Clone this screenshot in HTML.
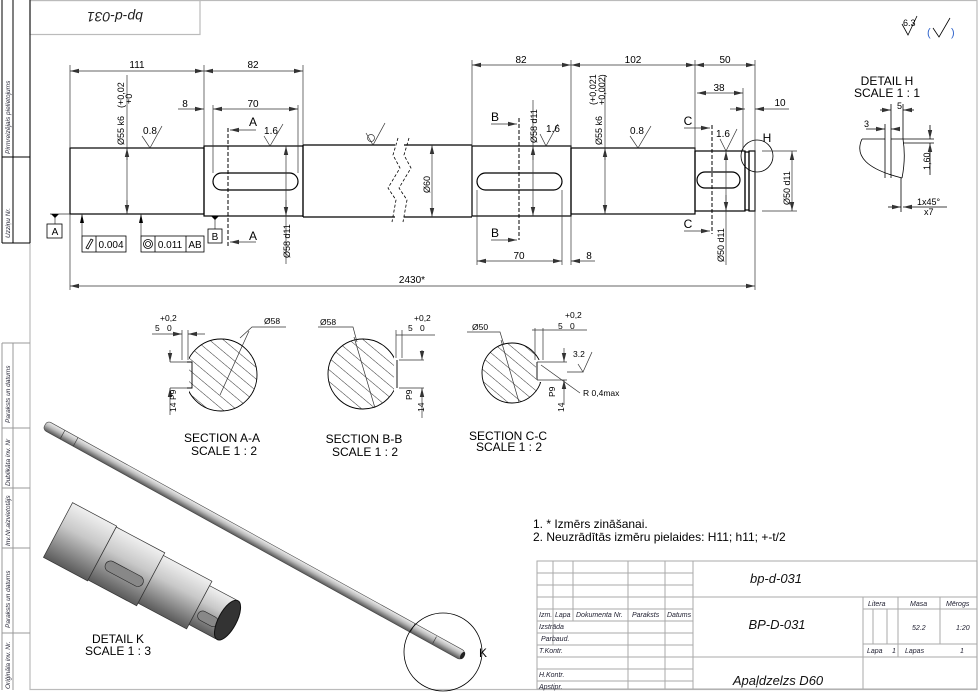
<!DOCTYPE html>
<html><head><meta charset="utf-8"><style>
html,body{margin:0;padding:0;background:#fff}
svg{display:block;font-family:"Liberation Sans",Arial,sans-serif}
</style></head><body>
<svg width="980" height="692" viewBox="0 0 980 692" xmlns="http://www.w3.org/2000/svg">
<defs>
<pattern id="hat" width="9" height="9" patternUnits="userSpaceOnUse" patternTransform="rotate(-50)"><line x1="0" y1="0" x2="0" y2="9" stroke="#000" stroke-width="0.8"/></pattern>
<marker id="ar" markerWidth="10" markerHeight="6" refX="9" refY="3" orient="auto-start-reverse" markerUnits="userSpaceOnUse"><path d="M0,0.8 L9,3 L0,5.2 z" fill="#333"/></marker>
<linearGradient id="g3" x1="0" y1="0" x2="0" y2="1"><stop offset="0" stop-color="#eee"/><stop offset="0.45" stop-color="#bbb"/><stop offset="1" stop-color="#555"/></linearGradient>
<linearGradient id="gk" x1="0" y1="0" x2="0" y2="1"><stop offset="0" stop-color="#f0f0f0"/><stop offset="0.4" stop-color="#c8c8c8"/><stop offset="1" stop-color="#5a5a5a"/></linearGradient>
</defs>
<rect width="980" height="692" fill="#fff"/>
<g stroke="#bbb" fill="none" stroke-width="1.2">
<rect x="30" y="0.5" width="947" height="689"/>
<rect x="30" y="0.5" width="170" height="34"/>
</g>
<text x="115" y="26" font-size="14" font-style="italic" text-anchor="middle" transform="rotate(180 115 19)" fill="#222">bp-d-031</text>
<g stroke="#000" stroke-width="1" fill="none">
<line x1="2" y1="0" x2="2" y2="243"/><line x1="13" y1="0" x2="13" y2="243"/><line x1="30" y1="0" x2="30" y2="243"/>
<line x1="2" y1="157" x2="30" y2="157"/><line x1="2" y1="243" x2="30" y2="243"/>
</g>
<g stroke="#999" stroke-width="1" fill="none">
<line x1="2" y1="343" x2="2" y2="690"/><line x1="13" y1="343" x2="13" y2="690"/>
<line x1="2" y1="343" x2="30" y2="343"/><line x1="2" y1="428" x2="30" y2="428"/><line x1="2" y1="488" x2="30" y2="488"/><line x1="2" y1="548" x2="30" y2="548"/><line x1="2" y1="633" x2="30" y2="633"/>
</g>
<g font-size="6.5" font-style="italic" fill="#223">
<text transform="translate(10,154) rotate(-90)">Pirmreizējais pielietojums</text>
<text transform="translate(10,238) rotate(-90)">Uzziņu Nr.</text>
<text transform="translate(10,423) rotate(-90)">Paraksts un datums</text>
<text transform="translate(10,486) rotate(-90)">Dublikāta inv. Nr</text>
<text transform="translate(10,546) rotate(-90)">Inv.Nr.aizvietotājs</text>
<text transform="translate(10,628) rotate(-90)">Paraksts un datums</text>
<text transform="translate(10,689) rotate(-90)">Oriģināla inv. Nr.</text>
</g>

<g stroke="#000" stroke-width="1.2" fill="none">
<rect x="70" y="148" width="134" height="66"/>
<rect x="204" y="146" width="99" height="70"/>
<path d="M303,145 H395 M303,217 H395 M303,145 V217"/>
<path d="M404,145 H472 M404,217 H472"/>
<rect x="472" y="146" width="99" height="70"/>
<rect x="571" y="148" width="124" height="66"/>
<rect x="695" y="151" width="50" height="60"/>
<rect x="745" y="152" width="4" height="58"/>
<rect x="749" y="151" width="6" height="60"/>
<rect x="213" y="173" width="85" height="17" rx="8.5"/>
<rect x="477" y="173" width="85" height="17" rx="8.5"/>
<rect x="697" y="172" width="43" height="16" rx="8"/>
<circle cx="757" cy="156" r="16" stroke-width="0.8"/>
</g>
<g stroke="#000" stroke-width="0.8" fill="none" stroke-dasharray="3,2">
<path d="M398,138 L393,155 L400,168 L388,188 L396,200 L392,222"/>
<path d="M409,138 L404,155 L411,168 L399,188 L407,200 L403,222"/>
</g>
<g stroke="#000" stroke-width="1" stroke-dasharray="4,2">
<line x1="228" y1="128" x2="228" y2="248"/>
<line x1="519" y1="118" x2="519" y2="240"/>
<line x1="712" y1="125" x2="712" y2="234"/>
</g>
<g stroke="#333" stroke-width="0.7" fill="none">
<line x1="70" y1="65" x2="70" y2="148"/><line x1="204" y1="65" x2="204" y2="146"/><line x1="303" y1="65" x2="303" y2="145"/>
<line x1="70" y1="71" x2="204" y2="71" marker-start="url(#ar)" marker-end="url(#ar)"/>
<line x1="204" y1="71" x2="303" y2="71" marker-start="url(#ar)" marker-end="url(#ar)"/>
<line x1="178" y1="109" x2="204" y2="109" marker-end="url(#ar)"/>
<line x1="213" y1="105" x2="213" y2="173"/><line x1="298" y1="105" x2="298" y2="173"/>
<line x1="213" y1="109" x2="298" y2="109" marker-start="url(#ar)" marker-end="url(#ar)"/>
<line x1="472" y1="60" x2="472" y2="146"/><line x1="571" y1="60" x2="571" y2="148"/><line x1="695" y1="60" x2="695" y2="151"/><line x1="755" y1="60" x2="755" y2="290"/>
<line x1="472" y1="65" x2="571" y2="65" marker-start="url(#ar)" marker-end="url(#ar)"/>
<line x1="571" y1="65" x2="695" y2="65" marker-start="url(#ar)" marker-end="url(#ar)"/>
<line x1="695" y1="65" x2="755" y2="65" marker-start="url(#ar)" marker-end="url(#ar)"/>
<line x1="743" y1="88" x2="743" y2="151"/>
<line x1="697" y1="93" x2="743" y2="93" marker-start="url(#ar)" marker-end="url(#ar)"/>
<line x1="730" y1="109" x2="745" y2="109" marker-end="url(#ar)"/>
<line x1="789" y1="109" x2="755" y2="109" marker-end="url(#ar)"/>
<line x1="70" y1="214" x2="70" y2="290"/>
<line x1="70" y1="286" x2="755" y2="286" marker-start="url(#ar)" marker-end="url(#ar)"/>
<line x1="477" y1="190" x2="477" y2="265"/><line x1="562" y1="190" x2="562" y2="265"/><line x1="571" y1="216" x2="571" y2="265"/>
<line x1="477" y1="261" x2="562" y2="261" marker-start="url(#ar)" marker-end="url(#ar)"/>
<line x1="595" y1="261" x2="571" y2="261" marker-end="url(#ar)"/>
<line x1="127" y1="75" x2="127" y2="214"/><line x1="127" y1="160" x2="127" y2="148" marker-end="url(#ar)"/><line x1="127" y1="200" x2="127" y2="214" marker-end="url(#ar)"/>
<line x1="286" y1="146" x2="286" y2="264" marker-start="url(#ar)"/><line x1="286" y1="200" x2="286" y2="216" marker-end="url(#ar)"/>
<line x1="432" y1="145" x2="432" y2="217" marker-start="url(#ar)" marker-end="url(#ar)"/>
<line x1="533" y1="100" x2="533" y2="216" marker-end="url(#ar)"/><line x1="533" y1="160" x2="533" y2="146" marker-end="url(#ar)"/>
<line x1="605" y1="75" x2="605" y2="214" marker-end="url(#ar)"/><line x1="605" y1="160" x2="605" y2="148" marker-end="url(#ar)"/>
<line x1="726" y1="151" x2="726" y2="265" marker-start="url(#ar)"/><line x1="726" y1="195" x2="726" y2="211" marker-end="url(#ar)"/>
<line x1="762" y1="151" x2="797" y2="151"/><line x1="762" y1="211" x2="797" y2="211"/>
<line x1="792" y1="151" x2="792" y2="211" marker-start="url(#ar)" marker-end="url(#ar)"/>
<line x1="256" y1="130" x2="230" y2="130" marker-end="url(#ar)"/><line x1="256" y1="242" x2="230" y2="242" marker-end="url(#ar)"/>
<line x1="491" y1="124" x2="517" y2="124" marker-end="url(#ar)"/><line x1="491" y1="240" x2="517" y2="240" marker-end="url(#ar)"/>
<line x1="684" y1="128" x2="710" y2="128" marker-end="url(#ar)"/><line x1="684" y1="231" x2="710" y2="231" marker-end="url(#ar)"/>
<path d="M142,136 L150,148 L162,126"/><path d="M264,136 L270,146 L283,124"/>
<path d="M630,136 L638,148 L651,126"/><path d="M540,134 L546,146 L558,124"/><path d="M720,139 L726,151 L737,129"/>
<path d="M366,133 L373,145 L385,123"/><circle cx="371" cy="138" r="3.5"/>
<line x1="50" y1="214" x2="70" y2="214"/><line x1="55" y1="214" x2="55" y2="224"/>
<line x1="215" y1="216" x2="215" y2="229"/>
<line x1="82" y1="214" x2="82" y2="236"/><line x1="141" y1="214" x2="141" y2="236"/>
</g>
<g fill="#000"><path d="M51,214 l4,4 l4,-4z"/><path d="M211,216 l4,4 l4,-4z"/><path d="M80,223 l2,-9 l2,9z"/><path d="M139,223 l2,-9 l2,9z"/></g>
<g stroke="#000" fill="#fff" stroke-width="0.8">
<rect x="47" y="224" width="15" height="14"/><rect x="208" y="229" width="14" height="14"/>
<rect x="82" y="236" width="44" height="16"/><line x1="96" y1="236" x2="96" y2="252"/>
<rect x="141" y="236" width="63" height="16"/><line x1="155" y1="236" x2="155" y2="252"/><line x1="186" y1="236" x2="186" y2="252"/>
<circle cx="148" cy="244" r="4.5"/><circle cx="148" cy="244" r="2.5"/>
<path d="M86,248 L91,239 L93,240 L88,249z" fill="none"/>
</g>
<g font-size="10" fill="#000" text-anchor="middle">
<text x="55" y="235">A</text><text x="215" y="240">B</text>
<text x="111" y="248">0.004</text><text x="170" y="248">0.011</text><text x="195" y="248">AB</text>
<text x="137" y="68">111</text><text x="253" y="68">82</text><text x="185" y="107">8</text><text x="253" y="107">70</text>
<text x="521" y="63">82</text><text x="633" y="63">102</text><text x="725" y="63">50</text><text x="719" y="91">38</text><text x="780" y="106">10</text>
<text x="412" y="283">2430*</text><text x="519" y="259">70</text><text x="589" y="259">8</text>
<text x="150" y="134">0.8</text><text x="271" y="134">1.6</text><text x="637" y="134">0.8</text><text x="553" y="132">1.6</text><text x="723" y="137">1.6</text>
</g>
<g font-size="12" fill="#000" text-anchor="middle">
<text x="253" y="126">A</text><text x="253" y="240">A</text>
<text x="495" y="121">B</text><text x="495" y="237">B</text>
<text x="688" y="125">C</text><text x="688" y="228">C</text>
<text x="767" y="142">H</text>
</g>
<g font-size="9" fill="#000">
<text transform="translate(124,145) rotate(-90)">Ø55 k6</text>
<text transform="translate(124,108) rotate(-90)">(+0,02</text><text transform="translate(132,104) rotate(-90)">+0</text>
<text transform="translate(290,258) rotate(-90)">Ø58 d11</text>
<text transform="translate(430,193) rotate(-90)">Ø60</text>
<text transform="translate(537,143) rotate(-90)">Ø58 d11</text>
<text transform="translate(602,145) rotate(-90)">Ø55 k6</text>
<text transform="translate(596,105) rotate(-90)">(+0,021</text><text transform="translate(605,105) rotate(-90)">+0,002)</text>
<text transform="translate(724,262) rotate(-90)">Ø50 d11</text>
<text transform="translate(790,205) rotate(-90)">Ø50 d11</text>
</g>
<text x="903" y="26" font-size="9">6.3</text>
<path d="M902,24 L908,35 L917,16" stroke="#000" fill="none" stroke-width="0.8"/>
<path d="M933,28 L939,37 L950,18" stroke="#000" fill="none" stroke-width="0.8"/>
<text x="927" y="36" font-size="11" fill="#36c">(</text><text x="951" y="36" font-size="11" fill="#36c">)</text>

<text x="887" y="85" font-size="12" text-anchor="middle">DETAIL H</text>
<text x="887" y="97" font-size="12" text-anchor="middle">SCALE 1 : 1</text>
<g stroke="#000" stroke-width="0.8" fill="none">
<path d="M862,139 H885 M885,139 V178 M891,139 V178 M903,139 Q906,158 902,178 M862,139 Q850,165 902,178 M891,139 H903"/>
<line x1="891" y1="104" x2="891" y2="139"/><line x1="903" y1="104" x2="903" y2="139"/><line x1="885" y1="124" x2="885" y2="139"/>
<line x1="880" y1="110" x2="891" y2="110" marker-end="url(#ar)"/><line x1="914" y1="110" x2="903" y2="110" marker-end="url(#ar)"/>
<line x1="866" y1="129" x2="885" y2="129" marker-end="url(#ar)"/><line x1="900" y1="129" x2="891" y2="129" marker-end="url(#ar)"/>
<line x1="903" y1="139" x2="934" y2="139"/><line x1="903" y1="143" x2="934" y2="143"/>
<line x1="930" y1="125" x2="930" y2="139" marker-end="url(#ar)"/><line x1="930" y1="175" x2="930" y2="143" marker-end="url(#ar)"/>
<line x1="901" y1="178" x2="901" y2="212"/>
<line x1="888" y1="207" x2="901" y2="207" marker-end="url(#ar)"/><line x1="947" y1="207" x2="903" y2="207" marker-end="url(#ar)"/>
</g>
<g font-size="9"><text x="897" y="109">5</text><text x="864" y="127">3</text><text transform="translate(930,170) rotate(-90)">1,60</text><text x="917" y="205">1x45°</text><text x="924" y="215">x7</text></g>

<g stroke="#000" stroke-width="0.9">
<circle cx="221" cy="375" r="36" fill="url(#hat)"/>
<rect x="184" y="357" width="5" height="37" fill="#fff" stroke="none"/>
<path d="M187,362 H192 V388 H187" fill="none"/>
<circle cx="363" cy="374" r="35" fill="url(#hat)"/>
<rect x="394" y="357" width="8" height="34" fill="#fff" stroke="none"/><path d="M397,360 V388" fill="none"/>
<circle cx="512" cy="373" r="30" fill="url(#hat)"/>
<rect x="536" y="360" width="8" height="22" fill="#fff" stroke="none"/><path d="M537,362 V380" fill="none"/>
</g>
<g stroke="#333" stroke-width="0.7" fill="none">
<line x1="152" y1="334" x2="182" y2="334" marker-end="url(#ar)"/><line x1="205" y1="334" x2="188" y2="334" marker-end="url(#ar)"/>
<line x1="182" y1="330" x2="182" y2="360"/><line x1="188" y1="330" x2="188" y2="360"/>
<line x1="170" y1="362" x2="187" y2="362"/><line x1="170" y1="388" x2="187" y2="388"/>
<line x1="170" y1="350" x2="170" y2="362" marker-end="url(#ar)"/><line x1="170" y1="415" x2="170" y2="388" marker-end="url(#ar)"/>
<path d="M240,338 L252,327 H286"/><line x1="220" y1="395" x2="249" y2="331" />
<path d="M318,327 H353 L357,342"/><line x1="354" y1="337" x2="375" y2="408"/>
<line x1="396" y1="335" x2="435" y2="335"/><line x1="396" y1="330" x2="396" y2="358"/><line x1="402" y1="330" x2="402" y2="358"/>
<line x1="399" y1="360" x2="424" y2="360"/><line x1="399" y1="388" x2="424" y2="388"/>
<line x1="422" y1="350" x2="422" y2="360" marker-end="url(#ar)"/><line x1="422" y1="418" x2="422" y2="388" marker-end="url(#ar)"/>
<path d="M467,332 H500 L504,345"/><line x1="501" y1="340" x2="519" y2="402"/>
<line x1="532" y1="330" x2="587" y2="330"/><line x1="535" y1="328" x2="535" y2="360"/><line x1="543" y1="328" x2="543" y2="360"/>
<line x1="537" y1="362" x2="567" y2="362"/><line x1="537" y1="380" x2="567" y2="380"/>
<line x1="564" y1="348" x2="564" y2="362" marker-end="url(#ar)"/><line x1="564" y1="405" x2="564" y2="380" marker-end="url(#ar)"/>
<path d="M567,372 H583 L578,364 M583,372 L592,352"/><line x1="580" y1="393" x2="541" y2="365"/>
</g>
<g font-size="8.5">
<text x="160" y="321">+0,2</text><text x="155" y="331">5</text><text x="167" y="331">0</text><text x="264" y="324">Ø58</text>
<text transform="translate(176,400) rotate(-90)">P9</text><text transform="translate(176,412) rotate(-90)">14</text>
<text x="320" y="325">Ø58</text><text x="414" y="321">+0,2</text><text x="408" y="331">5</text><text x="420" y="331">0</text>
<text transform="translate(412,400) rotate(-90)">P9</text><text transform="translate(424,412) rotate(-90)">14</text>
<text x="472" y="330">Ø50</text><text x="565" y="318">+0,2</text><text x="558" y="329">5</text><text x="570" y="329">0</text>
<text x="573" y="357">3.2</text><text x="583" y="396">R 0,4max</text>
<text transform="translate(555,397) rotate(-90)">P9</text><text transform="translate(564,412) rotate(-90)">14</text>
</g>
<g font-size="12" text-anchor="middle">
<text x="222" y="442">SECTION A-A</text><text x="224" y="455">SCALE 1 : 2</text>
<text x="364" y="443">SECTION B-B</text><text x="365" y="456">SCALE 1 : 2</text>
<text x="508" y="440">SECTION C-C</text><text x="509" y="451">SCALE 1 : 2</text>
</g>
<g font-size="12"><text x="533" y="528">1. * Izmērs zināšanai.</text><text x="533" y="541">2. Neuzrādītās izmēru pielaides: H11; h11; +-t/2</text></g>

<g transform="translate(45,425) rotate(28.9)">
<rect x="0" y="-5" width="478" height="10" rx="4" fill="url(#g3)" stroke="#444" stroke-width="0.6"/>
<line x1="20" y1="-5" x2="20" y2="5" stroke="#333" stroke-width="0.6"/><line x1="35" y1="-5" x2="35" y2="5" stroke="#333" stroke-width="0.6"/>
<line x1="420" y1="-5" x2="420" y2="5" stroke="#333" stroke-width="0.6"/><line x1="445" y1="-4" x2="445" y2="4" stroke="#333" stroke-width="0.6"/>
<ellipse cx="477" cy="0" rx="2" ry="4" fill="#222"/>
</g>
<circle cx="443" cy="652" r="39" fill="none" stroke="#000" stroke-width="0.8"/>
<text x="479" y="657" font-size="12">K</text>
<g transform="translate(58,530) rotate(28)">
<rect x="0" y="-31" width="50" height="62" fill="url(#gk)" stroke="#333" stroke-width="0.7"/>
<rect x="50" y="-30" width="55" height="60" fill="url(#gk)" stroke="#333" stroke-width="0.7"/>
<rect x="105" y="-27" width="55" height="54" fill="url(#gk)" stroke="#333" stroke-width="0.7"/>
<rect x="160" y="-22" width="30" height="44" fill="url(#gk)" stroke="#333" stroke-width="0.7"/>
<rect x="58" y="2" width="42" height="11" rx="5.5" fill="#888" stroke="#222" stroke-width="0.6"/>
<rect x="163" y="3" width="22" height="10" rx="5" fill="#888" stroke="#222" stroke-width="0.6"/>
<ellipse cx="192" cy="0" rx="9" ry="22" fill="#333" stroke="#111"/>
</g>
<g font-size="12" text-anchor="middle"><text x="118" y="643">DETAIL K</text><text x="118" y="655">SCALE 1 : 3</text></g>

<g stroke="#aaa" stroke-width="1" fill="none">
<rect x="537" y="561" width="440" height="128"/>
<line x1="553" y1="561" x2="553" y2="645"/><line x1="573" y1="561" x2="573" y2="621"/><line x1="628" y1="561" x2="628" y2="689"/><line x1="665" y1="561" x2="665" y2="689"/><line x1="693" y1="561" x2="693" y2="689"/>
<line x1="537" y1="573" x2="693" y2="573"/><line x1="537" y1="585" x2="693" y2="585"/><line x1="537" y1="597" x2="977" y2="597"/>
<line x1="537" y1="609" x2="693" y2="609"/><line x1="537" y1="621" x2="693" y2="621"/><line x1="537" y1="633" x2="693" y2="633"/><line x1="537" y1="645" x2="693" y2="645"/>
<line x1="537" y1="657" x2="977" y2="657"/><line x1="537" y1="669" x2="693" y2="669"/><line x1="537" y1="681" x2="693" y2="681"/>
<line x1="863" y1="597" x2="863" y2="689"/><line x1="863" y1="609" x2="977" y2="609"/><line x1="863" y1="644" x2="977" y2="644"/>
<line x1="873" y1="609" x2="873" y2="644"/><line x1="887" y1="609" x2="887" y2="644"/><line x1="898" y1="597" x2="898" y2="657"/><line x1="940" y1="597" x2="940" y2="644"/>
</g>
<g font-size="7" font-style="italic" fill="#223">
<text x="539" y="617">Izm.</text><text x="555" y="617">Lapa</text><text x="576" y="617">Dokumenta Nr.</text><text x="632" y="617">Paraksts</text><text x="667" y="617">Datums</text>
<text x="539" y="629">Izstrāda</text><text x="541" y="641">Parbaud.</text><text x="539" y="653">T.Kontr.</text><text x="539" y="677">H.Kontr.</text><text x="539" y="689">Apstipr.</text>
<text x="868" y="606">Litera</text><text x="910" y="606">Masa</text><text x="946" y="606">Mērogs</text>
<text x="912" y="630">52.2</text><text x="956" y="630">1:20</text>
<text x="867" y="653">Lapa</text><text x="892" y="653">1</text><text x="905" y="653">Lapas</text><text x="960" y="653">1</text>
</g>
<g font-size="13" font-style="italic" text-anchor="middle" fill="#111">
<text x="776" y="583">bp-d-031</text><text x="777" y="629">BP-D-031</text><text x="778" y="685">Apaļdzelzs D60</text>
</g>
</svg>
</body></html>
